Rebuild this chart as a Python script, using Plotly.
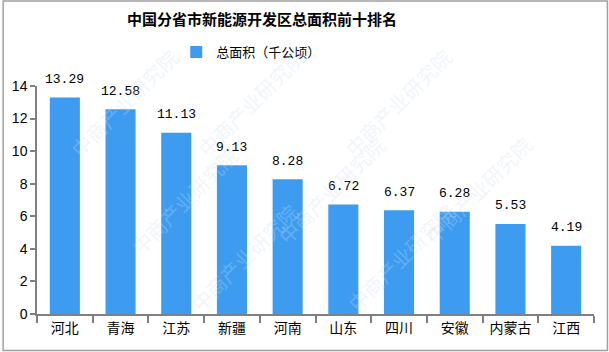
import plotly.graph_objects as go

categories = ["河北", "青海", "江苏", "新疆", "河南", "山东", "四川", "安徽", "内蒙古", "江西"]
values = [13.29, 12.58, 11.13, 9.13, 8.28, 6.72, 6.37, 6.28, 5.53, 4.19]
series_name = "总面积（千公顷）"
title = "中国分省市新能源开发区总面积前十排名"

W, H = 609, 352
L, R, T, B = 35, 15, 86, 38
pw, ph = W - L - R, H - T - B

def px(x):
    return (x - L) / pw

def py(y):
    return (H - B - y) / ph

fig = go.Figure()
fig.add_trace(go.Bar(
    x=categories, y=values, name=series_name,
    marker=dict(color="#3d9cf0", line=dict(width=0)),
    width=0.54,
    showlegend=True,
))

for c, v in zip(categories, values):
    fig.add_annotation(x=c, y=v, xref="x", yref="y", text=f"{v:.2f}", showarrow=False,
                       yanchor="middle", yshift=18,
                       font=dict(family="Liberation Mono, monospace", size=13, color="#000000"))

# faint watermarks
wm = "中商产业研究院"
for (x, y) in [(60, 40), (250, 40), (460, 40), (120, 200), (330, 190), (540, 190), (180, 320), (400, 320)]:
    fig.add_annotation(x=px(x), y=py(y), xref="paper", yref="paper", text=wm,
                       showarrow=False, textangle=-45,
                       font=dict(family="Noto Sans CJK SC", size=20, color="rgba(200,220,240,0.3)"))

fig.add_shape(type="rect", xref="paper", yref="paper",
              x0=px(1), x1=px(607.5), y0=py(350.5), y1=py(1),
              line=dict(color="#a0a0a0", width=1.5), layer="above")

fig.update_layout(
    width=W, height=H,
    margin=dict(l=L, r=R, t=T, b=B),
    paper_bgcolor="white", plot_bgcolor="white",
    font=dict(family="Noto Sans CJK SC, sans-serif", size=14, color="#000000"),
    title=dict(text=f"<b>{title}</b>", x=262 / W, xanchor="center", y=1 - 20 / H, yanchor="middle",
               font=dict(size=15, color="#000000")),
    legend=dict(orientation="h", x=px(250), xanchor="center", y=py(52), yanchor="middle",
                font=dict(size=13), itemwidth=30, bgcolor="rgba(0,0,0,0)"),
    bargap=0.46,
    xaxis=dict(showline=True, linecolor="#808080", linewidth=1.5, ticks="outside",
               tickson="boundaries", ticklen=7, tickcolor="#808080", tickwidth=1.5,
               showgrid=False, tickfont=dict(size=14)),
    yaxis=dict(range=[0, 14], dtick=2, showline=True, linecolor="#808080", linewidth=1.5,
               ticks="outside", ticklen=5, tickcolor="#808080", tickwidth=1.5,
               showgrid=False, zeroline=False, tickfont=dict(family="Liberation Sans, sans-serif", size=14)),
)

fig.write_html("out.html")
